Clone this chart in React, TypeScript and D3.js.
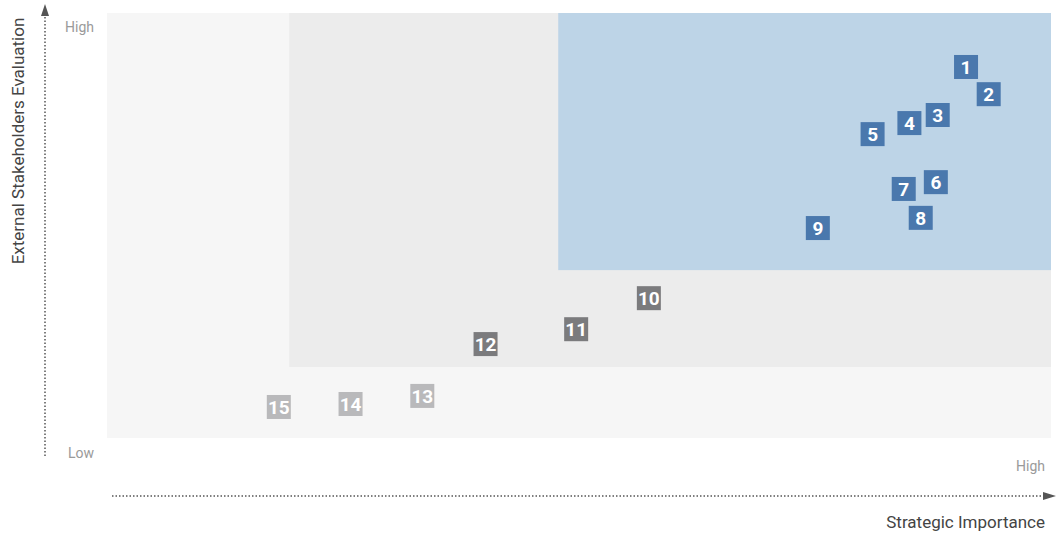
import * as d3 from 'd3';
import { useEffect, useRef } from 'react';

// topic positions, 0..100 on both axes
const ids = ['1', '2', '3', '4', '5', '6', '7', '8', '9', '10', '11', '12', '13', '14', '15'];
const importance = [91.0, 93.4, 88.0, 85.0, 81.1, 87.8, 84.4, 86.2, 75.3, 57.4, 49.7, 40.1, 33.4, 25.8, 18.2];
const evaluation = [87.3, 80.9, 76.0, 74.1, 71.5, 60.2, 58.6, 51.8, 49.4, 32.9, 25.6, 22.1, 9.9, 8.0, 7.3];
const tiers = ['high', 'high', 'high', 'high', 'high', 'high', 'high', 'high', 'high', 'mid', 'mid', 'mid', 'low', 'low', 'low'];

// zone bounds in data units
const zones = [
  { name: 'low', x0: 0, x1: 100, y0: 0, y1: 100 },
  { name: 'mid', x0: 19.3, x1: 100, y0: 16.7, y1: 100 },
  { name: 'high', x0: 47.8, x1: 100, y0: 39.5, y1: 100 },
];

const zoneFill: Record<string, string> = { low: '#f6f6f6', mid: '#ececec', high: '#bdd4e7' };
const boxFill: Record<string, string> = { low: '#b9b9bb', mid: '#7b7b7d', high: '#4a78ad' };

const App = () => {
  const ref = useRef<SVGSVGElement | null>(null);

  useEffect(() => {
    const width = 1057;
    const height = 536;
    const svg = d3.select(ref.current).attr('width', width).attr('height', height);
    svg.selectAll('*').remove();

    const x = d3.scaleLinear().domain([0, 100]).range([107, 1051]);
    const y = d3.scaleLinear().domain([0, 100]).range([438, 13]);

    svg
      .selectAll('rect.zone')
      .data(zones)
      .enter()
      .append('rect')
      .attr('class', 'zone')
      .attr('x', (d) => x(d.x0))
      .attr('y', (d) => y(d.y1))
      .attr('width', (d) => x(d.x1) - x(d.x0))
      .attr('height', (d) => y(d.y0) - y(d.y1))
      .attr('fill', (d) => zoneFill[d.name]);

    // axes: dotted lines with arrow heads
    const axisColor = '#555';
    svg
      .append('line')
      .attr('x1', 45).attr('x2', 45).attr('y1', 456).attr('y2', 14)
      .attr('stroke', axisColor).attr('stroke-width', 1.5).attr('stroke-dasharray', '1.5,2');
    svg
      .append('path')
      .attr('d', 'M45,4 L41,16 L49,16 Z')
      .attr('fill', axisColor);
    svg
      .append('line')
      .attr('x1', 112).attr('x2', 1044).attr('y1', 496).attr('y2', 496)
      .attr('stroke', axisColor).attr('stroke-width', 1.5).attr('stroke-dasharray', '1.5,2');
    svg
      .append('path')
      .attr('d', 'M1056,496 L1043,492 L1043,500 Z')
      .attr('fill', axisColor);

    const font = 'Roboto, "DejaVu Sans", sans-serif';
    const small = [
      { t: 'High', x: 94, y: 32 },
      { t: 'Low', x: 94, y: 458 },
      { t: 'High', x: 1045, y: 471 },
    ];
    svg
      .selectAll('text.lbl')
      .data(small)
      .enter()
      .append('text')
      .attr('class', 'lbl')
      .attr('x', (d) => d.x)
      .attr('y', (d) => d.y)
      .attr('text-anchor', 'end')
      .attr('font-family', font)
      .attr('font-size', 14)
      .attr('fill', '#9a9a9a')
      .text((d) => d.t);

    svg
      .append('text')
      .attr('x', 1045)
      .attr('y', 528)
      .attr('text-anchor', 'end')
      .attr('font-family', font)
      .attr('font-size', 17)
      .attr('fill', '#444')
      .text('Strategic Importance');

    svg
      .append('text')
      .attr('transform', 'translate(24,141) rotate(-90)')
      .attr('text-anchor', 'middle')
      .attr('font-family', font)
      .attr('font-size', 17)
      .attr('fill', '#444')
      .text('External Stakeholders Evaluation');

    const pts = ids.map((id, i) => ({ id, x: importance[i], y: evaluation[i], tier: tiers[i] }));
    const box = 24;
    const g = svg
      .selectAll('g.pt')
      .data(pts)
      .enter()
      .append('g')
      .attr('class', 'pt')
      .attr('transform', (d) => `translate(${x(d.x)},${y(d.y)})`);
    g.append('rect')
      .attr('x', -box / 2)
      .attr('y', -box / 2)
      .attr('width', box)
      .attr('height', box)
      .attr('fill', (d) => boxFill[d.tier]);
    g.append('text')
      .attr('text-anchor', 'middle')
      .attr('dy', 7)
      .attr('font-family', font)
      .attr('font-weight', 'bold')
      .attr('font-size', 19)
      .attr('fill', '#fff')
      .text((d) => d.id);
  }, []);

  return <svg ref={ref} style={{ position: 'absolute', left: 0, top: 0 }}></svg>;
};

export default App;
